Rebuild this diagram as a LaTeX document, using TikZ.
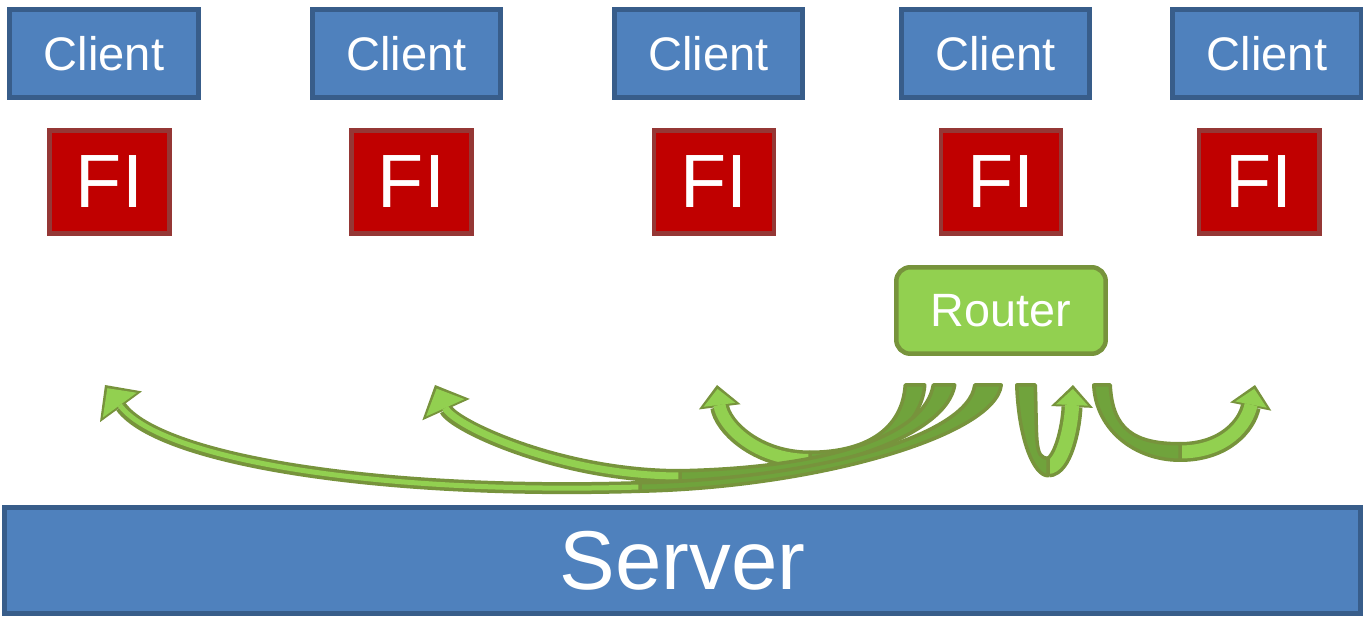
\documentclass[tikz,border=0pt]{standalone}
\usepackage{fontspec}
\setmainfont{Liberation Sans}
\usetikzlibrary{arrows.meta, calc}

\definecolor{clientblue}{HTML}{4F81BD}
\definecolor{clientedge}{HTML}{385D8A}
\definecolor{fired}{HTML}{C00000}
\definecolor{fiedge}{HTML}{953735}
\definecolor{routergreen}{HTML}{92D050}
\definecolor{routeredge}{HTML}{77933C}
\definecolor{arrowdark}{HTML}{70A33C}

\begin{document}
\begin{tikzpicture}[
    x=0.02cm, y=-0.02cm,
    every node/.style={text=white, inner sep=0pt, outer sep=0pt},
    client/.style={rectangle, draw=clientedge, fill=clientblue, line width=0.1cm, minimum width=3.78cm, minimum height=1.76cm, font=\fontsize{26.8}{32}\selectfont},
    fi/.style={rectangle, draw=fiedge, fill=fired, line width=0.09cm, minimum width=2.41cm, minimum height=2.07cm, font=\fontsize{43}{50}\selectfont},
    router/.style={rectangle, draw=routeredge, fill=routergreen, rounded corners=0.28cm, line width=0.09cm, minimum width=4.19cm, minimum height=1.73cm, font=\fontsize{26.6}{32}\selectfont},
    server/.style={rectangle, draw=clientedge, fill=clientblue, line width=0.1cm, minimum width=27.12cm, minimum height=2.12cm, font=\fontsize{47.5}{56}\selectfont},
    backshape/.style={draw=routeredge, fill=arrowdark, line width=0.07cm, line join=round},
    frontlong/.style={preaction={draw=routeredge, line width=#1+0.14cm, shorten >=0pt, -{Triangle[length=0.54cm, width=1.04cm, line width=0pt]}}, draw=routergreen, line width=#1, shorten >=0.08cm, -{Triangle[length=0.42cm, width=0.84cm, line width=0pt]}},
    frontshort/.style={preaction={draw=routeredge, line width=#1+0.14cm, shorten >=0pt, -{Triangle[length=0.44cm, width=0.84cm, line width=0pt]}}, draw=routergreen, line width=#1, shorten >=0.08cm, -{Triangle[length=0.32cm, width=0.64cm, line width=0pt]}}
]
\useasboundingbox (0,0) rectangle (1363,617);

% Nodes
\node (client1) [client] at (104,53.5) {Client};
\node (client2) [client] at (406.5,53.5) {Client};
\node (client3) [client] at (708.5,53.5) {Client};
\node (client4) [client] at (995.5,53.5) {Client};
\node (client5) [client] at (1267,53.5) {Client};

\node (fi1) [fi] at (109.5,182) {FI};
\node (fi2) [fi] at (411.5,182) {FI};
\node (fi3) [fi] at (714,182) {FI};
\node (fi4) [fi] at (1001,182) {FI};
\node (fi5) [fi] at (1259,182) {FI};

\node (router) [router] at (1001,310.5) {Router};
\node (server) [server] at (682.5,560.5) {Server};

% Arrow ends
\coordinate (tailA) at (988,385);  \coordinate (baseA) at (640,487);  \coordinate (tipA) at (105,385);
\coordinate (tailB) at (944,385);  \coordinate (baseB) at (680,476);  \coordinate (tipB) at (435,385);
\coordinate (tailC) at (915,385);  \coordinate (baseC) at (810,460);  \coordinate (tipC) at (717,385);
\coordinate (tailD) at (1026,385); \coordinate (baseD) at (1048,467); \coordinate (tipD) at (1073,385);
\coordinate (tailE) at (1102,385); \coordinate (baseE) at (1180,452); \coordinate (tipE) at (1255,385);

% Arrows: light front with head, then the darker back band
\draw [frontshort=0.24cm] (baseC) .. controls +(-55,0) and +(5,40) .. (tipC);
\draw [backshape] ($(tailC)+(-9.75,0)$) .. controls +(-3,45) and +(55,0) .. ($(baseC)+(0,-7.75)$)
    -- ($(baseC)+(0,7.75)$) .. controls +(55,0) and +(-3,45) .. ($(tailC)+(9.75,0)$) -- cycle;

\draw [frontlong=0.14cm] (baseB) .. controls +(-120,0) and +(18,40) .. (tipB);
\draw [backshape] ($(tailB)+(-10.75,0)$) .. controls +(-8,50) and +(150,-3) .. ($(baseB)+(0,-5.25)$)
    -- ($(baseB)+(0,5.25)$) .. controls +(150,-3) and +(-8,50) .. ($(tailB)+(10.75,0)$) -- cycle;

\draw [frontlong=0.1cm] (baseA) .. controls +(-260,8) and +(55,75) .. (tipA);
\draw [backshape] ($(tailA)+(-13.25,0)$) .. controls +(-6,50) and +(180,-4) .. ($(baseA)+(0,-4.25)$)
    -- ($(baseA)+(0,4.25)$) .. controls +(180,-4) and +(-6,50) .. ($(tailA)+(13.25,0)$) -- cycle;

\draw [frontshort=0.28cm] (baseD) .. controls +(14,0) and +(-2,45) .. (tipD);
\draw [backshape] ($(tailD)+(9.25,0)$) .. controls +(2,55) and +(-14,0) .. ($(baseD)+(0,-8.75)$)
    -- ($(baseD)+(0,8.75)$) .. controls +(-14,0) and +(2,55) .. ($(tailD)+(-9.25,0)$) -- cycle;

\draw [frontshort=0.26cm] (baseE) .. controls +(45,0) and +(-8,40) .. (tipE);
\draw [backshape] ($(tailE)+(8.25,0)$) .. controls +(2,45) and +(-45,0) .. ($(baseE)+(0,-8.25)$)
    -- ($(baseE)+(0,8.25)$) .. controls +(-45,0) and +(2,45) .. ($(tailE)+(-8.25,0)$) -- cycle;

\end{tikzpicture}
\end{document}
